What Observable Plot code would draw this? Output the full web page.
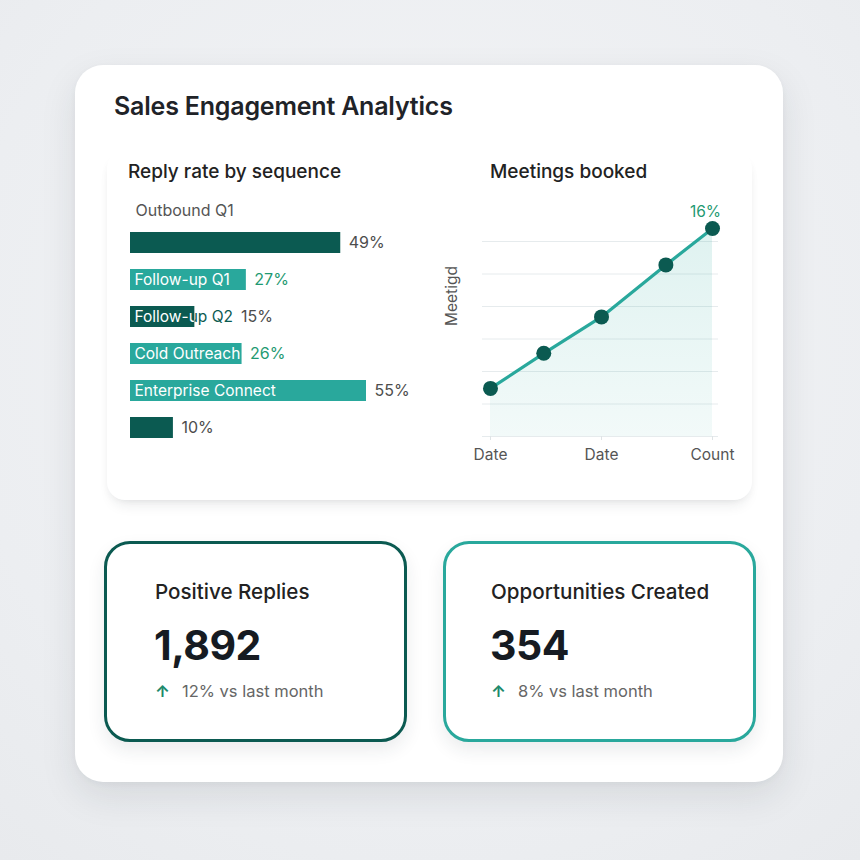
<!DOCTYPE html>
<html>
<head>
<meta charset="utf-8">
<script src="https://cdn.jsdelivr.net/npm/d3@7"></script>
<script src="https://cdn.jsdelivr.net/npm/@observablehq/plot@0.6"></script>
<style>
  html, body { margin: 0; padding: 0; }
  body {
    width: 860px; height: 860px; position: relative; overflow: hidden;
    background: radial-gradient(circle at 50% 40%, #f3f4f6 0%, #eceef1 70%, #e8eaed 100%);
    font-family: Inter, "Noto Sans", sans-serif; color: #1f2328;
  }
  .abs { position: absolute; }
  .card {
    left: 75px; top: 65px; width: 708px; height: 717px; border-radius: 28px;
    background: #fff; box-shadow: 0 14px 36px rgba(30, 40, 50, 0.10), 0 2px 6px rgba(30, 40, 50, 0.04);
  }
  .panel {
    left: 107px; top: 150px; width: 645px; height: 350px; border-radius: 18px;
    background: #fff; box-shadow: 0 10px 14px -6px rgba(30, 40, 50, 0.10), 4px 4px 10px -6px rgba(30, 40, 50, 0.06), -4px 4px 10px -6px rgba(30, 40, 50, 0.06);
  }
  .title { left: 114px; top: 94px; font-size: 25px; font-weight: 600; line-height: 1; letter-spacing: -0.2px; white-space: nowrap; }
  .sub { top: 162px; font-size: 19px; font-weight: 500; line-height: 1; white-space: nowrap; color: #222; }
  .kpi {
    top: 541px; height: 201px; box-sizing: border-box; border-radius: 26px; background: #fff;
    box-shadow: 0 8px 18px rgba(30, 40, 50, 0.09);
  }
  .kpi .name { position: absolute; top: 38px; font-size: 20.6px; font-weight: 500; line-height: 1; white-space: nowrap; color: #222; }
  .kpi .value { position: absolute; top: 81px; font-size: 41px; font-weight: 700; line-height: 1; letter-spacing: -0.5px; color: #161b22; }
  .kpi .delta { position: absolute; top: 139px; font-size: 16.5px; line-height: 1; white-space: nowrap; color: #666; }
  .kpi .delta b { color: #1d8a6c; font-weight: 700; margin-right: 12px; }
  svg { overflow: visible; }
</style>
</head>
<body>
<div class="abs card"></div>
<div class="abs panel"></div>
<div class="abs title">Sales Engagement Analytics</div>
<div class="abs sub" style="left:128px">Reply rate by sequence</div>
<div class="abs sub" style="left:490px">Meetings booked</div>
<div id="bars" class="abs" style="left:120px; top:190px"></div>
<div id="meetings" class="abs" style="left:440px; top:195px"></div>
<div id="kpis"></div>

<script>
// Reply rate by sequence
const sequences = ["Outbound Q1", "Follow-up Q1", "Follow-up Q2", "Cold Outreach", "Enterprise Connect", ""];
const replyRates = [49, 27, 15, 26, 55, 10];
const barTones = ["dark", "teal", "dark", "teal", "teal", "dark"];
const accentRates = [false, true, false, true, false, false];

// Meetings booked
const meetingX = [0, 2.4, 5, 7.9, 10];
const meetingRates = [3.7, 6.4, 9.2, 13.2, 16];
const meetingTickValues = [0, 5, 10];
const meetingTickLabels = ["Date", "Date", "Count"];
const meetingGrid = [0, 2.5, 5, 7.5, 10, 12.5, 15];

// KPI cards
const kpiTitles = ["Positive Replies", "Opportunities Created"];
const kpiValues = [1892, 354];
const kpiChanges = [12, 8];

const DARK = "#0b5a51";
const TEAL = "#29a89c";
const GREEN = "#1f9a72";
const GREY = "#4d4d4d";
const FONT = "Inter, 'Noto Sans', sans-serif";

// ---- bar chart ----
const barSpan = 236;          // pixels for the full x domain
const xMax = 55;
const pxPerPoint = barSpan / xMax;
const labelInset = 4;
const labelSize = 15.5;
const ctx = document.createElement("canvas").getContext("2d");
ctx.font = `${labelSize}px Inter`;

const rows = sequences.map((name, i) => {
  const w = name ? ctx.measureText(name).width : 0;
  const above = i === 0;
  const overflow = !above && name && (labelInset + w > replyRates[i] * pxPerPoint);
  return {
    i, name, rate: replyRates[i], above, overflow,
    fill: barTones[i] === "dark" ? DARK : TEAL,
    accent: accentRates[i],
    end: overflow ? Math.max(replyRates[i], (labelInset + w) / pxPerPoint) : replyRates[i]
  };
});

const barPlot = Plot.plot({
  width: 10 + barSpan + 64, height: 268,
  marginLeft: 10, marginRight: 64, marginTop: 24, marginBottom: 1,
  style: {background: "transparent", fontFamily: FONT, overflow: "visible"},
  x: {domain: [0, xMax], axis: null},
  y: {domain: rows.map(d => d.i), axis: null, padding: 0.42},
  color: {type: "identity"},
  marks: [
    Plot.barX(rows, {x: "rate", y: "i", fill: "fill"}),
    Plot.text(rows.filter(d => d.above), {x: 0, y: "i", text: "name", dx: 5, dy: -32, textAnchor: "start", fill: "#555", fontSize: 16}),
    Plot.text(rows.filter(d => d.overflow), {x: 0, y: "i", text: "name", dx: labelInset, textAnchor: "start", fill: DARK, fontSize: labelSize}),
    Plot.text(rows.filter(d => !d.above && d.name), {x: 0, y: "i", text: "name", dx: labelInset, textAnchor: "start", fill: "white", fontSize: labelSize}),
    Plot.text(rows, {x: "end", y: "i", text: d => `${d.rate}%`, dx: 8, textAnchor: "start", fill: d => d.accent ? GREEN : GREY, fontSize: 16})
  ]
});
document.getElementById("bars").appendChild(barPlot);

// keep the white in-bar labels inside their bars
{
  const svg = d3.select(barPlot);
  const barGroup = svg.select('g[aria-label="bar"]');
  const clip = svg.append("defs").append("clipPath").attr("id", "bar-clip");
  if (barGroup.attr("transform")) clip.attr("transform", barGroup.attr("transform"));
  barGroup.selectAll("rect").each(function () { clip.node().appendChild(this.cloneNode()); });
  const textGroups = svg.selectAll('g[aria-label="text"]').nodes();
  const whiteLabels = textGroups[2];
  const wrap = document.createElementNS("http://www.w3.org/2000/svg", "g");
  wrap.setAttribute("clip-path", "url(#bar-clip)");
  whiteLabels.parentNode.insertBefore(wrap, whiteLabels);
  wrap.appendChild(whiteLabels);
}

// ---- meetings line chart ----
const meetings = meetingX.map((x, i) => ({x, rate: meetingRates[i]}));
const last = meetings[meetings.length - 1];

const linePlot = Plot.plot({
  width: 310, height: 275,
  marginLeft: 42, marginRight: 32, marginTop: 20, marginBottom: 34,
  style: {background: "transparent", fontFamily: FONT, overflow: "visible"},
  x: {domain: [-0.36, 10.27]},
  y: {domain: [0, 17], axis: null},
  marks: [
    Plot.ruleY(meetingGrid, {stroke: "#e6ebed", strokeWidth: 1}),
    Plot.areaY(meetings, {x: "x", y: "rate", fill: "url(#meet-fill)"}),
    Plot.lineY(meetings, {x: "x", y: "rate", stroke: TEAL, strokeWidth: 3.2}),
    Plot.dot(meetings, {x: "x", y: "rate", r: 7.5, fill: DARK}),
    Plot.text([last], {x: "x", y: "rate", text: d => `${d.rate}%`, dx: -7, dy: -16, fill: GREEN, fontSize: 15.5}),
    Plot.axisX({
      ticks: meetingTickValues,
      tickFormat: d => meetingTickLabels[meetingTickValues.indexOf(d)],
      tickSize: 4, tickPadding: 8, stroke: "#dfe4e6", fill: "#555", fontSize: 15.5, label: null
    }),
    Plot.text(["Meetigd"], {frameAnchor: "left", text: d => d, rotate: -90, dx: -30, fill: "#555", fontSize: 15.5})
  ]
});
document.getElementById("meetings").appendChild(linePlot);
d3.select(linePlot).insert("defs", ":first-child").html(
  `<linearGradient id="meet-fill" x1="0" y1="0" x2="0" y2="1">
     <stop offset="0" stop-color="${TEAL}" stop-opacity="0.15"/>
     <stop offset="1" stop-color="${TEAL}" stop-opacity="0.06"/>
   </linearGradient>`
);

// ---- KPI cards ----
const kpiBoxes = [
  {left: 104, width: 303, border: DARK, pad: 48},
  {left: 443, width: 313, border: TEAL, pad: 45}
];
const fmt = d3.format(",");
d3.select("#kpis").selectAll("div.kpi")
  .data(kpiTitles.map((t, i) => ({t, v: kpiValues[i], c: kpiChanges[i], box: kpiBoxes[i]})))
  .join("div")
  .attr("class", "abs kpi")
  .style("left", d => d.box.left + "px")
  .style("width", d => d.box.width + "px")
  .style("border", d => `3px solid ${d.box.border}`)
  .html(d => `
    <div class="name" style="left:${d.box.pad}px">${d.t}</div>
    <div class="value" style="left:${d.box.pad - 1}px">${fmt(d.v)}</div>
    <div class="delta" style="left:${d.box.pad}px"><b>↑</b>${d.c}% vs last month</div>`);
</script>
</body>
</html>
